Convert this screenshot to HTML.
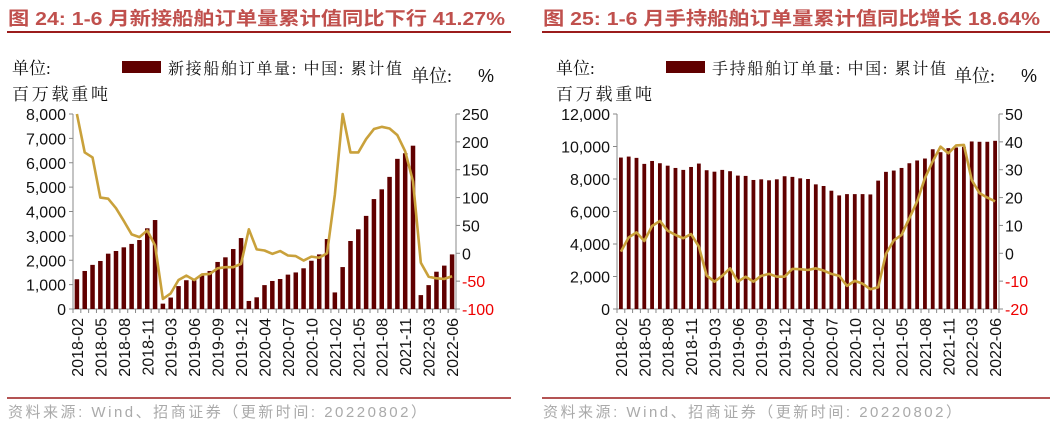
<!DOCTYPE html>
<html><head><meta charset="utf-8"><style>
body{margin:0;background:#fff;width:1058px;height:426px;overflow:hidden}
svg text{font-family:"Liberation Sans","Noto Sans CJK SC",sans-serif}
.cj{font-family:"Liberation Serif","Noto Serif CJK SC",serif}
</style></head><body>
<svg id="s" width="1058" height="426" viewBox="0 0 1058 426" xmlns="http://www.w3.org/2000/svg">
<text x="8" y="25" font-size="18.5" font-weight="bold" fill="#c0504d" textLength="497" lengthAdjust="spacingAndGlyphs">图 24:  1-6 月新接船舶订单量累计值同比下行 41.27%</text>
<line x1="7" y1="32" x2="511" y2="32" stroke="#9b1c1c" stroke-width="2"/>
<text x="543" y="25" font-size="18.5" font-weight="bold" fill="#c0504d" textLength="497" lengthAdjust="spacingAndGlyphs">图 25:  1-6 月手持船舶订单量累计值同比增长 18.64%</text>
<line x1="542" y1="32" x2="1050" y2="32" stroke="#9b1c1c" stroke-width="2"/>
<line x1="7" y1="398" x2="511" y2="398" stroke="#9b1c1c" stroke-width="1.5"/>
<line x1="542" y1="398" x2="1050" y2="398" stroke="#9b1c1c" stroke-width="1.5"/>
<text x="8" y="417" font-size="15" fill="#aaa" textLength="418" lengthAdjust="spacing">资料来源: Wind、招商证券（更新时间: 20220802）</text>
<text x="543" y="417" font-size="15" fill="#aaa" textLength="418" lengthAdjust="spacing">资料来源: Wind、招商证券（更新时间: 20220802）</text>
<g id="c1"></g>
<g id="c2"></g>
</svg>
<script>
const months = [];
for (let y = 2018; y <= 2022; y++) for (let m = 2; m <= (y === 2022 ? 6 : 12); m++) months.push(y + '-' + String(m).padStart(2, '0'));
const newOrders = [1220,1560,1810,1970,2270,2380,2530,2670,2830,3310,3650,
 220,470,940,1180,1180,1370,1560,1930,2120,2460,2910,
 330,480,980,1150,1230,1410,1500,1670,1980,2240,2870,
 680,1720,2790,3270,3820,4510,4910,5420,6160,6390,6700,
 570,980,1530,1780,2240];
const newOrdersYoY = [250,181,172,100,98,81,58,34,29,41,14,
 -82,-72,-48,-40,-48,-38,-37,-27,-25,-25,-19,
 43,7,5,-1,4,-4,-5,-13,-6,-8,0,
 105,250,181,181,205,223,227,224,212,183,129,
 -17,-42,-45,-46,-41.27];
const backlog = [9320,9380,9300,8930,9110,8970,8820,8680,8560,8740,8950,
 8540,8450,8560,8480,8210,8190,7940,7980,7920,7980,8170,
 8130,8040,8000,7670,7570,7280,6990,7070,7070,7070,7050,
 7900,8440,8520,8680,8970,9140,9260,9830,9650,9900,9940,
 9980,10310,10290,10290,10350];
const backlogYoY = [0.6,5.7,7.5,4.4,9.8,11.6,8.1,6.6,5.4,6.9,2.4,
 -8,-10.2,-8.1,-5.4,-10.2,-8.4,-10.2,-8.1,-7.4,-8.4,-8.4,
 -5.6,-5.7,-6,-5.4,-6.2,-7.4,-8.1,-11.7,-9.9,-10.9,-12.9,
 -12.2,-0.2,4.6,6.6,12.6,18.6,27,33,38.3,35.9,38.7,
 38.9,26.3,21.6,20,18.64];
const leftTicks1 = [0,1000,2000,3000,4000,5000,6000,7000,8000];
const rightTicks1 = [-100,-50,0,50,100,150,200,250];
const leftTicks2 = [0,2000,4000,6000,8000,10000,12000];
const rightTicks2 = [-20,-10,0,10,20,30,40,50];

const NS = 'http://www.w3.org/2000/svg';
function mk(p, t, a, txt) { const e = document.createElementNS(NS, t); for (const k in a) e.setAttribute(k, a[k]); if (txt !== undefined) e.textContent = txt; p.appendChild(e); return e; }
function fmt(v) { return v.toLocaleString('en-US'); }

function draw(g, cfg) {
  const top = 114, bot = 309, L = cfg.L, R = cfg.R, n = months.length, band = (R - L) / n;
  const yL = v => bot - (v - cfg.lMin) / (cfg.lMax - cfg.lMin) * (bot - top);
  const yR = v => bot - (v - cfg.rMin) / (cfg.rMax - cfg.rMin) * (bot - top);
  const xC = i => L + band * (i + 0.5);
  let t = mk(g, 'text', {x: L - 61, y: 74, 'font-size': 17, class: 'cj', fill: '#111'}, '单位:');
   
  t = mk(g, 'text', {x: L - 61, y: 100, 'font-size': 17, class: 'cj', fill: '#111', textLength: 96}, '百万载重吨');
   
  t = mk(g, 'text', {x: R - 45, y: 82, 'font-size': 18, class: 'cj', fill: '#111'}, '单位:');
   
  t = mk(g, 'text', {x: R + 22, y: 82, 'font-size': 18, fill: '#111'}, '%');
   
  const sw = mk(g, 'rect', {x: L + 49, y: 61, width: 39, height: 12, fill: '#600000'});
   
  t = mk(g, 'text', {x: L + 95, y: 74, 'font-size': 16, class: 'cj', fill: '#111', textLength: 234}, cfg.legend);
   
  let a = mk(g, 'line', {x1: L, y1: top, x2: L, y2: bot, stroke: '#888'});
   
  a = mk(g, 'line', {x1: R, y1: top, x2: R, y2: bot, stroke: '#888'});
   
  a = mk(g, 'line', {x1: L, y1: bot, x2: R, y2: bot, stroke: '#888'});
   
  cfg.lt.forEach(v => {
    mk(g, 'line', {x1: L - 4, y1: yL(v), x2: L, y2: yL(v), stroke: '#888'});
    const e = mk(g, 'text', {x: L - 7, y: yL(v) + 6, 'font-size': 16, 'text-anchor': 'end', fill: '#111'}, fmt(v));
     
  });
  cfg.rt.forEach(v => {
    mk(g, 'line', {x1: R, y1: yR(v), x2: R + 4, y2: yR(v), stroke: '#888'});
    const e = mk(g, 'text', {x: R + 6, y: yR(v) + 6, 'font-size': 16, fill: v < 0 ? '#e00' : '#111'}, String(v));
     
  });
  for (let i = 0; i <= n; i++) mk(g, 'line', {x1: L + band * i, y1: bot, x2: L + band * i, y2: bot + 4, stroke: '#888'});
  months.forEach((m, i) => {
    if (i % 3) return;
    const e = mk(g, 'text', {x: 0, y: 0, 'font-size': 16, 'text-anchor': 'end', fill: '#111', transform: `translate(${xC(i) + 6},318) rotate(-90)`}, m);
     
  });
  cfg.bars.forEach((v, i) => {
    const b = mk(g, 'rect', {x: xC(i) - cfg.bw / 2, y: yL(v), width: cfg.bw, height: bot - yL(v), fill: '#600000'});
     
  });
  const p = mk(g, 'polyline', {points: cfg.line.map((v, i) => xC(i) + ',' + yR(v)).join(' '), fill: 'none', stroke: '#c9a13b', 'stroke-width': 2.6, 'stroke-linejoin': 'round'});
   
}
draw(document.getElementById('c1'), {L: 73, R: 456, lMin: 0, lMax: 8000, rMin: -100, rMax: 250, lt: leftTicks1, rt: rightTicks1, bars: newOrders, line: newOrdersYoY, bw: 4.5, legend: '新接船舶订单量: 中国: 累计值'});
draw(document.getElementById('c2'), {L: 617, R: 999, lMin: 0, lMax: 12000, rMin: -20, rMax: 50, lt: leftTicks2, rt: rightTicks2, bars: backlog, line: backlogYoY, bw: 3.8, legend: '手持船舶订单量: 中国: 累计值'});
</script>
</body></html>
